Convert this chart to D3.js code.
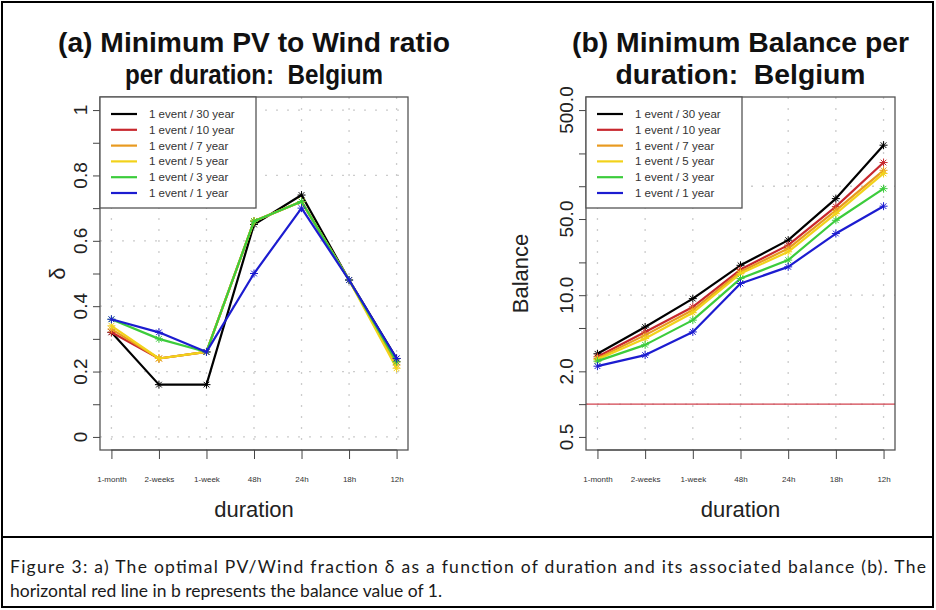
<!DOCTYPE html>
<html>
<head>
<meta charset="utf-8">
<script src="https://cdn.jsdelivr.net/npm/d3@7"></script>
<style>
  body { margin: 0; background: #fff; }
  svg text { font-family: "Liberation Sans", Arial, sans-serif; }
</style>
</head>
<body>
<svg id="fig" width="936" height="610"></svg>
<script>
// categories and series
var durations = ["1-month", "2-weeks", "1-week", "48h", "24h", "18h", "12h"];
var seriesNames = ["1 event / 30 year", "1 event / 10 year", "1 event / 7 year",
  "1 event / 5 year", "1 event / 3 year", "1 event / 1 year"];
var seriesColors = ["#000000", "#c8282e", "#e89a20", "#f2d21a", "#3ccc3c", "#1c1cd0"];

// (a) minimum PV to wind ratio, one list per return period
var ratio30 = [0.32, 0.16, 0.16, 0.65, 0.74, 0.48, 0.24];
var ratio10 = [0.32, 0.24, 0.26, 0.66, 0.72, 0.48, 0.23];
var ratio7  = [0.33, 0.24, 0.26, 0.66, 0.72, 0.48, 0.22];
var ratio5  = [0.34, 0.24, 0.26, 0.66, 0.72, 0.48, 0.21];
var ratio3  = [0.36, 0.30, 0.26, 0.66, 0.72, 0.48, 0.23];
var ratio1  = [0.36, 0.32, 0.26, 0.50, 0.70, 0.48, 0.24];

// (b) minimum balance
var bal30 = [2.9, 5.1, 9.3, 18.8, 32, 77, 238];
var bal10 = [2.72, 4.6, 7.8, 17.2, 28.8, 65, 165];
var bal7  = [2.63, 4.3, 7.3, 16.4, 26.8, 60, 140];
var bal5  = [2.57, 4.0, 6.9, 15.8, 25, 56, 131];
var bal3  = [2.48, 3.5, 5.9, 14.2, 21, 48.7, 95];
var bal1  = [2.23, 2.82, 4.6, 12.8, 18.2, 36.8, 65.6];

// axis ticks
var ratioTicks = [0, 0.1, 0.2, 0.3, 0.4, 0.5, 0.6, 0.7, 0.8, 0.9, 1];
var ratioLabels = [0, 0.2, 0.4, 0.6, 0.8, 1];
var balTicks = [0.5, 1, 2, 5, 10, 20, 50, 100, 200, 500];
var balLabels = [0.5, 2, 10, 50, 500];
var balGrid = [1, 10, 100];
var balRef = 1;

var ratioData = [ratio30, ratio10, ratio7, ratio5, ratio3, ratio1];
var balData = [bal30, bal10, bal7, bal5, bal3, bal1];

var svg = d3.select("#fig");

// frame + caption box
svg.append("rect").attr("x", 2).attr("y", 2).attr("width", 931).attr("height", 605)
  .attr("fill", "none").attr("stroke", "#000").attr("stroke-width", 2);
svg.append("line").attr("x1", 2).attr("x2", 933).attr("y1", 537).attr("y2", 537)
  .attr("stroke", "#000").attr("stroke-width", 2);

var cap1 = "Figure 3: a) The optimal PV/Wind fraction \u03b4 as a function of duration and its associated balance (b). The";
var cap2 = "horizontal red line in b represents the balance value of 1.";
svg.append("text").attr("x", 10).attr("y", 573).text(cap1)
  .attr("font-size", 17.5).attr("fill", "#1a1a1a")
  .attr("textLength", 916).attr("lengthAdjust", "spacing")
  .style("font-family", "Lato, sans-serif");
svg.append("text").attr("x", 10).attr("y", 597).text(cap2)
  .attr("font-size", 17.5).attr("fill", "#1a1a1a")
  .style("font-family", "Lato, sans-serif");

var plotTop = 97, plotBottom = 450;

function starPath(s) {
  var d = s * 0.7071;
  return "M" + (-s) + ",0L" + s + ",0M0," + (-s) + "L0," + s +
    "M" + (-d) + "," + (-d) + "L" + d + "," + d + "M" + (-d) + "," + d + "L" + d + "," + (-d);
}

function buildPanel(opts) {
  var g = svg.append("g");
  var x = d3.scaleLinear().domain([-0.24, 6.24]).range([opts.left, opts.right]);
  var y = opts.y;

  // titles
  opts.title.forEach(function(t, i) {
    g.append("text").attr("x", (opts.left + opts.right) / 2).attr("y", 52 + i * 32)
      .attr("text-anchor", "middle").attr("font-size", 28).attr("font-weight", "bold")
      .attr("fill", "#111").attr("textLength", opts.titleLen[i])
      .attr("lengthAdjust", "spacingAndGlyphs").style("white-space", "pre").text(t);
  });

  // grid
  var dash = "2,9";
  g.selectAll(".vgrid").data(durations).enter().append("line")
    .attr("x1", function(d, i) { return x(i); }).attr("x2", function(d, i) { return x(i); })
    .attr("y1", plotTop).attr("y2", plotBottom)
    .attr("stroke", "#cccccc").attr("stroke-width", 1.3).attr("stroke-dasharray", dash);
  g.selectAll(".hgrid").data(opts.grid).enter().append("line")
    .attr("x1", opts.left).attr("x2", opts.right)
    .attr("y1", function(d) { return y(d); }).attr("y2", function(d) { return y(d); })
    .attr("stroke", "#cccccc").attr("stroke-width", 1.3).attr("stroke-dasharray", dash);

  if (opts.refLine) {
    g.append("line").attr("x1", opts.left).attr("x2", opts.right)
      .attr("y1", y(opts.refLine)).attr("y2", y(opts.refLine))
      .attr("stroke", "#d2434f").attr("stroke-width", 1.3);
  }

  // series
  var line = d3.line().x(function(d, i) { return x(i); }).y(function(d) { return y(d); });
  opts.data.forEach(function(vals, k) {
    g.append("path").attr("d", line(vals)).attr("fill", "none")
      .attr("stroke", seriesColors[k]).attr("stroke-width", 2.2).attr("stroke-linejoin", "round");
    g.selectAll(".pt" + k).data(vals).enter().append("path")
      .attr("d", starPath(4))
      .attr("transform", function(d, i) { return "translate(" + x(i) + "," + y(d) + ")"; })
      .attr("stroke", seriesColors[k]).attr("stroke-width", 1).attr("fill", "none");
  });

  // box
  g.append("rect").attr("x", opts.left).attr("y", plotTop)
    .attr("width", opts.right - opts.left).attr("height", plotBottom - plotTop)
    .attr("fill", "none").attr("stroke", "#555").attr("stroke-width", 1.3);

  // y axis
  var yAxis = d3.axisLeft(y).tickValues(opts.ticks).tickSize(7).tickFormat("");
  var ya = g.append("g").attr("transform", "translate(" + opts.left + ",0)").call(yAxis);
  ya.select(".domain").remove();
  ya.selectAll("line").attr("stroke", "#444");
  g.selectAll(".ylab").data(opts.labels).enter().append("text")
    .attr("transform", function(d) { return "translate(" + (opts.left - 13) + "," + y(d) + ") rotate(-90)"; })
    .attr("text-anchor", "middle").attr("font-size", 19).attr("fill", "#222")
    .text(opts.fmt);

  // x axis
  var xAxis = d3.axisBottom(x).tickValues(d3.range(durations.length)).tickSize(9)
    .tickFormat(function(i) { return durations[i]; });
  var xa = g.append("g").attr("transform", "translate(0," + plotBottom + ")").call(xAxis);
  xa.select(".domain").attr("d", "M" + x(0) + ",0H" + x(6)).attr("stroke", "#444");
  xa.selectAll("line").attr("stroke", "#444");
  xa.selectAll("text").attr("y", 26).attr("font-size", 8).attr("fill", "#333")
    .style("font-family", "'Liberation Sans', Arial, sans-serif");

  g.append("text").attr("x", (opts.left + opts.right) / 2).attr("y", 517)
    .attr("text-anchor", "middle").attr("font-size", 22).attr("fill", "#222").text("duration");
  g.append("text")
    .attr("transform", "translate(" + opts.ylabX + "," + ((plotTop + plotBottom) / 2) + ") rotate(-90)")
    .attr("text-anchor", "middle").attr("font-size", 22).attr("fill", "#222").text(opts.ylab);

  // legend
  var lg = g.append("g");
  lg.append("rect").attr("x", opts.left).attr("y", plotTop)
    .attr("width", opts.legendW).attr("height", 111)
    .attr("fill", "#fff").attr("stroke", "#555").attr("stroke-width", 1.3);
  seriesNames.forEach(function(name, k) {
    var ly = plotTop + 17 + k * 15.8;
    lg.append("line").attr("x1", opts.left + 11).attr("x2", opts.left + 37)
      .attr("y1", ly).attr("y2", ly).attr("stroke", seriesColors[k]).attr("stroke-width", 2.2);
    lg.append("text").attr("x", opts.left + 49).attr("y", ly + 4)
      .attr("font-size", 11.5).attr("fill", "#333").text(name);
  });
}

buildPanel({
  left: 100, right: 408,
  y: d3.scaleLinear().domain([-0.04, 1.04]).range([plotBottom, plotTop]),
  data: ratioData, ticks: ratioTicks, labels: ratioLabels,
  grid: ratioLabels, fmt: function(d) { return d; },
  title: ["(a) Minimum PV to Wind ratio", "per duration:  Belgium"], titleLen: [392, 258],
  ylab: "\u03b4", ylabX: 65, legendW: 156
});

buildPanel({
  left: 586, right: 895,
  y: d3.scaleLog().domain([Math.pow(10, -0.421), Math.pow(10, 2.819)]).range([plotBottom, plotTop]),
  data: balData, ticks: balTicks, labels: balLabels,
  grid: balGrid, fmt: function(d) { return d3.format(".1f")(d); },
  title: ["(b) Minimum Balance per", "duration:  Belgium"], titleLen: [337, 250],
  ylab: "Balance", ylabX: 528, legendW: 156, refLine: balRef
});
</script>
</body>
</html>
